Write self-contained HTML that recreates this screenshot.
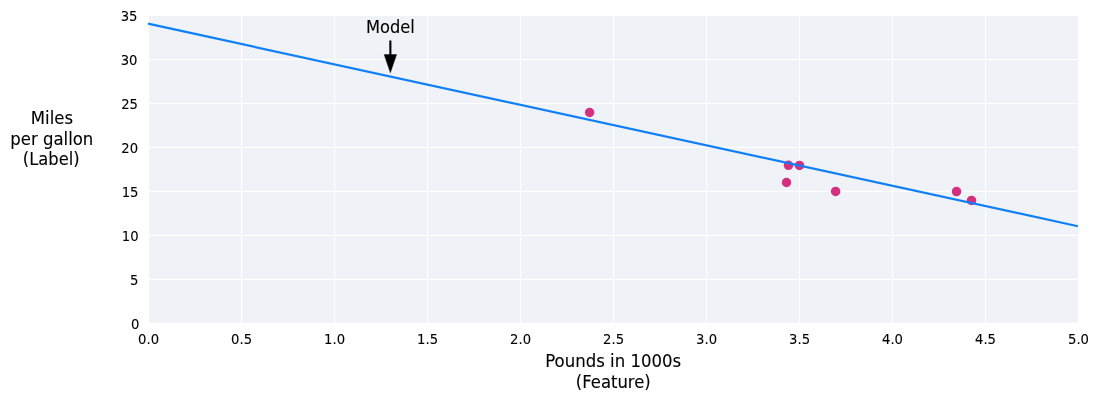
<!DOCTYPE html>
<html lang="en"><head><meta charset="utf-8"><title>Model: miles per gallon vs pounds</title>
<style>html,body{margin:0;padding:0;background:#fff;}body{width:1099px;height:401px;overflow:hidden;}svg{display:block;}text{font-family:"DejaVu Sans", "Liberation Sans", sans-serif;fill:#000;stroke:#000;stroke-width:0.1px;}</style></head><body>
<svg width="1099" height="401" viewBox="0 0 1099 401">
<rect x="0" y="0" width="1099" height="401" fill="#ffffff"/>
<rect x="148.60" y="15.50" width="929.90" height="307.80" fill="#eff3f8"/>
<g stroke="#ffffff" stroke-width="1.1"><line x1="241.59" y1="15.50" x2="241.59" y2="323.30"/><line x1="334.58" y1="15.50" x2="334.58" y2="323.30"/><line x1="427.57" y1="15.50" x2="427.57" y2="323.30"/><line x1="520.56" y1="15.50" x2="520.56" y2="323.30"/><line x1="613.55" y1="15.50" x2="613.55" y2="323.30"/><line x1="706.54" y1="15.50" x2="706.54" y2="323.30"/><line x1="799.53" y1="15.50" x2="799.53" y2="323.30"/><line x1="892.52" y1="15.50" x2="892.52" y2="323.30"/><line x1="985.51" y1="15.50" x2="985.51" y2="323.30"/><line x1="148.60" y1="279.33" x2="1078.50" y2="279.33"/><line x1="148.60" y1="235.36" x2="1078.50" y2="235.36"/><line x1="148.60" y1="191.39" x2="1078.50" y2="191.39"/><line x1="148.60" y1="147.41" x2="1078.50" y2="147.41"/><line x1="148.60" y1="103.44" x2="1078.50" y2="103.44"/><line x1="148.60" y1="59.47" x2="1078.50" y2="59.47"/></g>
<g fill="#d33080"><circle cx="799.53" cy="165.45" r="4.75"/><circle cx="835.62" cy="191.39" r="4.75"/><circle cx="788.47" cy="165.35" r="4.75"/><circle cx="786.51" cy="182.49" r="4.75"/><circle cx="956.55" cy="191.54" r="4.75"/><circle cx="971.50" cy="200.48" r="4.75"/><circle cx="589.62" cy="112.49" r="4.75"/></g>
<rect x="148.60" y="15.50" width="929.90" height="307.80" fill="none" stroke="#ffffff" stroke-width="1.1"/>
<line x1="148.00" y1="23.66" x2="1077.90" y2="226.23" stroke="#0f7ff7" stroke-width="2.2"/>
<line x1="390.37" y1="40.5" x2="390.37" y2="58" stroke="#000" stroke-width="2.1"/>
<polygon points="384.12,54.6 396.62,54.6 390.37,72.8" fill="#000" stroke="#000" stroke-width="0.4" stroke-linejoin="round"/>
<g font-size="16.30" text-anchor="middle">
<text transform="translate(390.37 32.90) scale(1 1.110)">Model</text>
</g>
<g font-size="13.20" text-anchor="middle">
<text transform="translate(148.60 344.40) scale(1 1.070)">0.0</text>
<text transform="translate(241.59 344.40) scale(1 1.070)">0.5</text>
<text transform="translate(334.58 344.40) scale(1 1.070)">1.0</text>
<text transform="translate(427.57 344.40) scale(1 1.070)">1.5</text>
<text transform="translate(520.56 344.40) scale(1 1.070)">2.0</text>
<text transform="translate(613.55 344.40) scale(1 1.070)">2.5</text>
<text transform="translate(706.54 344.40) scale(1 1.070)">3.0</text>
<text transform="translate(799.53 344.40) scale(1 1.070)">3.5</text>
<text transform="translate(892.52 344.40) scale(1 1.070)">4.0</text>
<text transform="translate(985.51 344.40) scale(1 1.070)">4.5</text>
<text transform="translate(1078.50 344.40) scale(1 1.070)">5.0</text>
</g>
<g font-size="13.20" text-anchor="end">
<text transform="translate(139.50 328.90) scale(1 1.070)">0</text>
<text transform="translate(138.50 284.93) scale(1 1.070)">5</text>
<text transform="translate(138.55 240.96) scale(1 1.070)">10</text>
<text transform="translate(138.50 196.99) scale(1 1.070)">15</text>
<text transform="translate(138.10 153.01) scale(1 1.070)">20</text>
<text transform="translate(138.00 109.04) scale(1 1.070)">25</text>
<text transform="translate(137.50 65.07) scale(1 1.070)">30</text>
<text transform="translate(137.50 21.10) scale(1 1.070)">35</text>
</g>
<g font-size="16.30" text-anchor="middle">
<text transform="translate(51.90 124.20) scale(1 1.095)" font-size="16.52">Miles</text><text transform="translate(51.80 144.70) scale(1 1.095)" font-size="16.52">per gallon</text><text transform="translate(51.20 165.10) scale(1 1.107)" font-size="16.35">(Label)</text>
<text transform="translate(613.20 367.20) scale(1 1.092)" font-size="16.57">Pounds in 1000s</text><text transform="translate(613.30 387.70) scale(1 1.100)" font-size="16.45">(Feature)</text>
</g>
</svg></body></html>
